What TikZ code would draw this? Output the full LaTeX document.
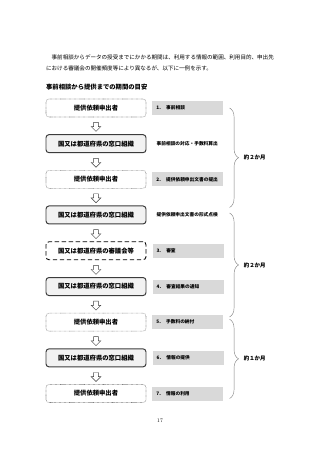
\documentclass[tikz,border=0pt]{standalone}
\usepackage{fontspec}
\newfontfamily\jp{Noto Sans CJK JP}
\usetikzlibrary{positioning,calc,shapes.arrows,decorations.pathreplacing}
\definecolor{FrameDark}{HTML}{3C3C3C}
\definecolor{DeskFill}{HTML}{F2F2F2}
\definecolor{DotGray}{HTML}{808080}
\definecolor{StepGray}{HTML}{D9D9D9}
\newcommand{\stepno}[1]{#1.\hspace{2.6mm}}

\begin{document}
\begin{tikzpicture}[
x=0.5mm,y=-0.5mm,
node distance=8.44mm,
font=\jp,
flowbox/.style={rounded corners=1.5mm,minimum width=50mm,minimum height=9mm,inner sep=0pt,font=\jp\bfseries\fontsize{9}{10}\selectfont},
applicant/.style={flowbox,draw=DotGray,densely dotted,line width=0.8pt,fill=white},
desk/.style={flowbox,draw=FrameDark,line width=1.4pt,fill=DeskFill},
council/.style={flowbox,draw=black,dash pattern=on 2.2mm off 1.3mm,line width=1.2pt,fill=white},
steplabel/.style={right=3mm of #1,minimum height=7mm,inner xsep=2mm,inner ysep=0pt,text width=31.5mm,align=left,font=\jp\bfseries\fontsize{6.7}{8}\selectfont},
downarr/.style={single arrow,draw=FrameDark,fill=white,line width=0.6pt,shape border rotate=270,minimum height=4.5mm,inner sep=1.1mm,single arrow head extend=1.2mm},
brc/.style={decorate,decoration={brace,amplitude=4.5mm},draw=DotGray,line width=0.6pt},
spanlabel/.style={midway,right=7mm,inner sep=0pt,font=\jp\bfseries\fontsize{7.8}{9}\selectfont}
]
\fill[white] (0,0) rectangle (320,453);
\useasboundingbox (0,0) rectangle (320,453);

% text above the chart
\node[anchor=north west,inner sep=0pt,align=left,font=\jp\fontsize{7.9}{16.5}\selectfont] (para) at (46,54.5)
  {\hspace*{1em}事前相談からデータの授受までにかかる期間は、利用する情報の範囲、利用目的、申出先\\
   における審議会の開催頻度等により異なるが、以下に一例を示す。};
\node[anchor=west,inner sep=0pt,font=\jp\bfseries\fontsize{9}{10}\selectfont] (title) at (46,87) {事前相談から提供までの期間の目安};

% flow
\node[applicant] (b1) at (96,108) {提供依頼申出者};
\node[desk,below=of b1] (b2) {国又は都道府県の窓口組織};
\node[applicant,below=of b2] (b3) {提供依頼申出者};
\node[desk,below=of b3] (b4) {国又は都道府県の窓口組織};
\node[council,below=of b4] (b5) {国又は都道府県の審議会等};
\node[desk,below=of b5] (b6) {国又は都道府県の窓口組織};
\node[applicant,below=of b6] (b7) {提供依頼申出者};
\node[desk,below=of b7] (b8) {国又は都道府県の窓口組織};
\node[applicant,below=of b8] (b9) {提供依頼申出者};
\foreach \i [evaluate=\i as \j using int(\i+1)] in {1,...,8}
  \node[downarr] (arr\i) at ($(b\i.south)!0.5!(b\j.north)$) {};

% steps
\node[steplabel=b1,fill=StepGray] (l1) {\stepno{1}事前相談};
\node[steplabel=b2] (l2) {事前相談の対応・手数料算出};
\node[steplabel=b3,fill=StepGray] (l3) {\stepno{2}提供依頼申出文書の提出};
\node[steplabel=b4] (l4) {提供依頼申出文書の形式点検};
\node[steplabel=b5,fill=StepGray] (l5) {\stepno{3}審査};
\node[steplabel=b6,fill=StepGray] (l6) {\stepno{4}審査結果の通知};
\node[steplabel=b7,fill=StepGray] (l7) {\stepno{5}手数料の納付};
\node[steplabel=b8,fill=StepGray] (l8) {\stepno{6}情報の提供};
\node[steplabel=b9,fill=StepGray] (l9) {\stepno{7}情報の利用};

% periods
\coordinate (bx) at ($(l1.east)+(3mm,0)$);
\draw[brc] (b1 -| bx) -- node[spanlabel] (p1) {約２か月} ($(b4.north -| bx)+(0,-1mm)$);
\draw[brc] ($(b4 -| bx)+(0,1mm)$) -- node[spanlabel] (p2) {約２か月} ($(b7.north -| bx)+(0,-2mm)$);
\draw[brc] ($(b7 -| bx)+(0,1.5mm)$) -- node[spanlabel] (p3) {約１か月} ($(b9 -| bx)+(0,-2.5mm)$);

\node[font=\rmfamily\fontsize{7.5}{9}\selectfont] (pageno) at (160,421) {17};
\end{tikzpicture}
\end{document}
